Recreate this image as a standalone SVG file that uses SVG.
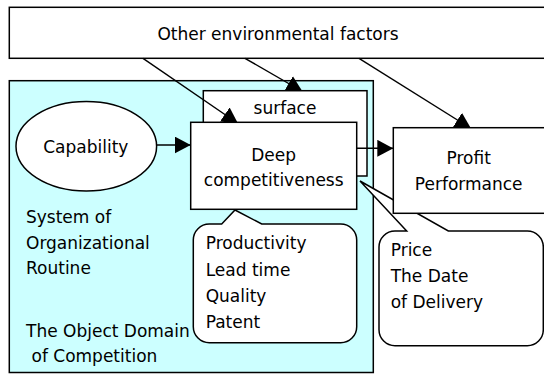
<svg xmlns="http://www.w3.org/2000/svg" width="544" height="374" viewBox="0 0 544 374">
<style>
.box{fill:#fff;stroke:#000;stroke-width:1.5}
.domain{fill:#ccffff;stroke:#000;stroke-width:1.5}
.conn{stroke:#000;stroke-width:1.4;fill:none;marker-end:url(#arr)}
text{font-family:"DejaVu Sans","Liberation Sans",sans-serif;font-size:17px;fill:#000}
.c{text-anchor:middle}
</style>
<defs>
<marker id="arr" markerUnits="userSpaceOnUse" markerWidth="16" markerHeight="17" refX="16" refY="8.5" orient="auto">
<path d="M0,0 L16,8.5 L0,17 Z" fill="#000"/>
</marker>
<clipPath id="clipDeep"><path clip-rule="evenodd" d="M0,0H544V374H0Z M190.7,122.3H356.7V209.3H190.7Z"/></clipPath>
<clipPath id="clipSurface"><path clip-rule="evenodd" d="M0,0H544V374H0Z M203.3,90.7H367V176H203.3Z"/></clipPath>
<clipPath id="clipProfit"><path clip-rule="evenodd" d="M0,0H544V374H0Z M393.3,127.7H560V213.3H393.3Z"/></clipPath>
</defs>

<g id="domain">
<rect class="domain" x="9.3" y="80.7" width="364" height="291.8"/>
<text x="26" y="223">System of</text>
<text x="26" y="248.5">Organizational</text>
<text x="26" y="274">Routine</text>
<text x="26" y="337">The Object Domain</text>
<text x="31.5" y="362">of Competition</text>
</g>

<g id="env">
<rect class="box" x="9.3" y="7.3" width="545" height="51"/>
<text class="c" x="278" y="39.5">Other environmental factors</text>
</g>

<g id="surface">
<rect class="box" x="203.3" y="90.7" width="163.7" height="85.3"/>
<text class="c" x="285" y="114">surface</text>
</g>

<g id="deep">
<rect class="box" x="190.7" y="122.3" width="166" height="87"/>
<text class="c" x="273.7" y="161">Deep</text>
<text class="c" x="273.7" y="186">competitiveness</text>
</g>

<g id="capability">
<ellipse class="box" cx="86.3" cy="146.3" rx="70.3" ry="44.7"/>
<text class="c" x="85.8" y="153">Capability</text>
</g>

<g id="callout-factors">
<path class="box" d="M221.7,224 L235,210 L261.7,224 L340.7,224 A16,16 0 0 1 356.7,240 L356.7,326.7 A16,16 0 0 1 340.7,342.7 L209.3,342.7 A16,16 0 0 1 193.3,326.7 L193.3,240 A16,16 0 0 1 209.3,224 Z"/>
<text x="205.7" y="249.3">Productivity</text>
<text x="205.7" y="276">Lead time</text>
<text x="205.7" y="302">Quality</text>
<text x="205.7" y="328">Patent</text>
</g>

<g id="callout-market">
<path class="box" d="M406.7,231 L360,181 L448.3,231 L527.3,231 A16,16 0 0 1 543.3,247 L543.3,329.7 A16,16 0 0 1 527.3,345.7 L395,345.7 A16,16 0 0 1 379,329.7 L379,247 A16,16 0 0 1 395,231 Z"/>
<text x="390.7" y="256">Price</text>
<text x="390.7" y="282.3">The Date</text>
<text x="390.7" y="308.3">of Delivery</text>
</g>

<g id="profit">
<rect class="box" x="393.3" y="127.7" width="160" height="85.6"/>
<text class="c" x="468.7" y="164">Profit</text>
<text class="c" x="468.7" y="190">Performance</text>
</g>

<g id="connectors">
<line class="conn" x1="143" y1="58.3" x2="238" y2="123.5" clip-path="url(#clipDeep)"/>
<line class="conn" x1="245" y1="58.3" x2="302.5" y2="91.5" clip-path="url(#clipSurface)"/>
<line class="conn" x1="359" y1="58.3" x2="471" y2="128.5" clip-path="url(#clipProfit)"/>
<line class="conn" x1="156.6" y1="145" x2="190.7" y2="145"/>
<line class="conn" x1="356.7" y1="148.3" x2="393.3" y2="148.3"/>
</g>
</svg>
